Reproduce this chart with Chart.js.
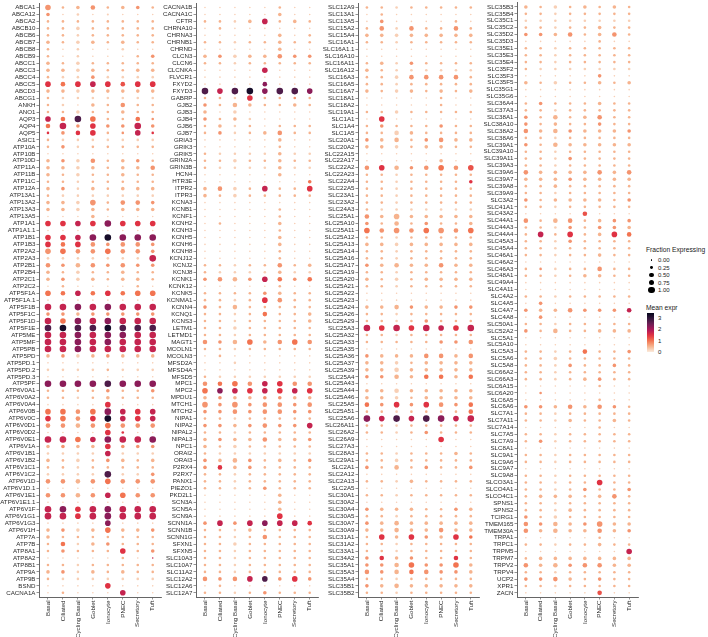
<!DOCTYPE html>
<html>
<head>
<meta charset="utf-8">
<script src="https://cdn.jsdelivr.net/npm/chart.js@4.4.1/dist/chart.umd.min.js"></script>
<style>
  body { margin: 0; background: #fff; }
  #wrap { position: relative; width: 708px; height: 637px; overflow: hidden; font-family: 'Liberation Sans', Arial, sans-serif; color: #1a1a1a; }
  #wrap canvas { position: absolute; top: 0; }
  .lg { position: absolute; white-space: nowrap; line-height: 1; }
</style>
</head>
<body>
<div id="wrap">
  <canvas id="p1"></canvas>
  <canvas id="p2"></canvas>
  <canvas id="p3"></canvas>
  <canvas id="p4"></canvas>
</div>
<script>
// cell types (x axis)
const cellTypes = ['Basal', 'Ciliated', 'Cycling Basal', 'Goblet', 'Ionocyte', 'PNEC', 'Secretory', 'Tuft'];

// one string per gene, one character per cell type (same order as cellTypes)
// fraction expressing: hex digit in tenths (a = 1.0)
// mean expression: hex digit in quarters (4 = 1.0, 8 = 2.0, d = 3.25)

const genes1 = ['ABCA1','ABCA12','ABCA2','ABCB10','ABCB6','ABCB7','ABCB8','ABCB9','ABCC1','ABCC3','ABCC4','ABCC5','ABCD3','ABCG1','ANKH','ANO1','AQP3','AQP4','AQP5','ASIC1','ATP10A','ATP10B','ATP10D','ATP11A','ATP11B','ATP11C','ATP12A','ATP13A1','ATP13A2','ATP13A3','ATP13A5','ATP1A1','ATP1A1.1','ATP1B1','ATP1B3','ATP2A2','ATP2A3','ATP2B1','ATP2B4','ATP2C1','ATP2C2','ATP5F1A','ATP5F1A.1','ATP5F1B','ATP5F1C','ATP5F1D','ATP5F1E','ATP5ME','ATP5MF','ATP5PB','ATP5PD','ATP5PD.1','ATP5PD.2','ATP5PD.3','ATP5PF','ATP6V0A1','ATP6V0A2','ATP6V0A4','ATP6V0B','ATP6V0C','ATP6V0D1','ATP6V0D2','ATP6V0E1','ATP6V1A','ATP6V1B1','ATP6V1B2','ATP6V1C1','ATP6V1C2','ATP6V1D','ATP6V1D.1','ATP6V1E1','ATP6V1E1.1','ATP6V1F','ATP6V1G1','ATP6V1G3','ATP6V1H','ATP7A','ATP7B','ATP8A1','ATP8A2','ATP8B1','ATP9A','ATP9B','BSND','CACNA1A'];
const frac1 = ['82462442','40201000','22222222','22422222','22222222','42442422','20200200','20200024','42422222','44442244','22242222','86888688','44444444','22222222','22042622','22422422','86a82262','6a4844a4','24682282','22222222','24222222','00000000','44462442','44442446','42422422','22222222','44242444','22222222','44482664','44442444','00040000','8888a888','00000000','888aaaaa','86864664','88668664','2222222a','64664644','42422422','44442442','02000020','86868688','00000000','aaaaaaaa','44444444','a8aaaaaa','aaaaaaaa','aaaaaaaa','aaaaaaaa','aaaaaaaa','44444444','00000000','22222222','00000000','aaaaaaaa','22224224','22224222','00008000','8868a888','8868a888','66668666','00008200','aa88aaaa','44448444','22228222','42424424','22222222','2222a224','66668666','00000000','66668866','00000000','aa8aaaaa','aa8aaaaa','00008000','44448444','42222222','26244222','24222824','00000200','22222222','44242422','22222222','00008000','02000800'];
const mean1 = ['32232232','31111111','22222222','22122222','22122222','22122222','21111111','21111123','22122222','22122222','21131111','64676566','22122222','21111111','21122322','22122222','74b42243','47363373','63662376','21111111','23122222','11111111','23132232','22122223','22122222','22122222','23122222','21111111','22132333','22122222','11121111','66769666','11111111','6679d999','64633333','34334333','11111117','33233333','22122222','23122222','12111121','44746444','11111111','77979777','33233333','74979777','bdbbdbbb','77979977','77979777','77977777','23123222','11111111','11112111','11111111','9999b999','22223223','22122222','11116111','44349767','6436d767','33234333','11116611','77479779','23226333','11117111','22123222','22122222','1111b113','33234333','11111111','33237433','11111111','79679777','77679777','11119111','23124223','22222222','24123222','23222623','11111217','22122222','23122222','21111111','11116111','12111711'];

const genes2 = ['CACNA1B','CACNA1C','CFTR','CHRNA10','CHRNA3','CHRNB1','CHRND','CLCN3','CLCN6','CLCNKA','FLVCR1','FXYD2','FXYD3','GABRP','GJB2','GJB3','GJB4','GJB6','GJB7','GRIA3','GRIK3','GRIK5','GRIN2A','GRIN3B','HCN4','HTR3E','ITPR2','ITPR3','KCNA3','KCNB1','KCNF1','KCNH2','KCNH3','KCNH5','KCNH6','KCNH8','KCNJ12','KCNJ2','KCNJ8','KCNK1','KCNK12','KCNK5','KCNMA1','KCNN4','KCNQ1','KCNS3','LETM1','LETMD1','MAGT1','MCOLN1','MCOLN3','MFSD2A','MFSD4A','MFSD5','MPC1','MPC2','MPDU1','MTCH1','MTCH2','NIPA1','NIPA2','NIPAL2','NIPAL3','NPC1','ORAI2','ORAI3','P2RX4','P2RX7','PANX1','PIEZO1','PKD2L1','SCN3A','SCN5A','SCN9A','SCNN1A','SCNN1B','SCNN1G','SFXN1','SFXN5','SLC10A3','SLC10A7','SLC11A2','SLC12A2','SLC12A6','SLC12A7'];
const frac2 = ['00000200','00000400','22248242','02000000','00000402','22222422','00000400','44444644','22222222','00008000','00000000','00006000','a8aa8aa8','22282222','42642242','40400000','42420000','24220222','24224622','00000400','00000200','22222422','22422422','22222422','00000400','00000004','46428228','42422222','00000000','00000200','00000200','02000400','00000200','00000400','00000400','00000200','00000200','22222624','22222422','46648646','00000200','22224422','22228622','42622222','22226224','22222224','22422222','22222222','64684686','22222222','02000000','00200000','00000000','22222222','66868866','88888888','44444444','84846646','44646644','22222222','44446448','22222222','44446444','42422222','22222222','44642424','46442222','22222222','22222222','22224222','00000400','00000400','00000400','00000800','48488886','22242222','22226222','22422222','22222222','22222222','22222222','22222222','64688484','02000000','22224222'];
const mean2 = ['11111211','11111211','22127222','12111111','11111212','22122222','11111211','23122333','22122222','11117111','11111111','11119111','b7bd9bb9','22162232','32222222','21111111','32211111','22121222','23122322','11111211','11111211','21111211','22122222','21111211','11111211','11111114','23127226','22122222','11111111','11111211','11111211','12111211','11111211','11111211','11111211','11111211','11111211','22122322','21111211','33237434','11111211','22223222','22126322','32222222','22124222','22122222','22122222','22122222','33242343','22122222','12111111','11111111','11111111','21111111','34437633','49767676','23223322','33333333','33333333','22122222','33233337','22122222','23223223','22122222','21111111','32232223','36232222','22122222','22122222','22123222','11111211','11111211','11111211','11111611','37379776','22122222','22123222','22122222','22122222','22122222','22122222','22122222','3337b363','12111111','22123222'];

const genes3 = ['SLC12A9','SLC13A1','SLC13A5','SLC15A2','SLC15A4','SLC16A1','SLC16A1.1','SLC16A10','SLC16A11','SLC16A12','SLC16A3','SLC16A5','SLC16A7','SLC18A1','SLC18A2','SLC19A1','SLC1A1','SLC1A4','SLC1A5','SLC20A1','SLC20A2','SLC22A15','SLC22A17','SLC22A2','SLC22A23','SLC22A4','SLC22A5','SLC23A1','SLC23A2','SLC24A3','SLC25A1','SLC25A10','SLC25A11','SLC25A12','SLC25A13','SLC25A14','SLC25A16','SLC25A17','SLC25A19','SLC25A20','SLC25A21','SLC25A22','SLC25A23','SLC25A24','SLC25A26','SLC25A29','SLC25A3','SLC25A32','SLC25A33','SLC25A35','SLC25A36','SLC25A37','SLC25A39','SLC25A4','SLC25A43','SLC25A44','SLC25A46','SLC25A5','SLC25A51','SLC25A6','SLC26A11','SLC26A2','SLC26A9','SLC27A3','SLC28A3','SLC29A1','SLC2A1','SLC2A12','SLC2A13','SLC2A5','SLC30A1','SLC30A2','SLC30A4','SLC30A5','SLC30A7','SLC30A9','SLC31A1','SLC31A2','SLC33A1','SLC34A2','SLC35A1','SLC35A3','SLC35A4','SLC35B1','SLC35B2'];
const frac3 = ['22222222','02000000','04000020','26262262','44444444','22222222','00000000','00000000','24242222','42222222','22466662','22222222','42442424','00000200','00000200','22422222','08000000','24222422','22642222','44624644','44424422','00000000','00000400','68646868','22222222','22222224','22222222','22222222','22222222','22222222','64844444','42624224','86868868','22222222','44444444','22222222','22222222','44644644','22222222','42424444','22222222','00000000','00000000','44644444','22222222','22224222','a8a8a88a','22222222','22222446','00000000','44446646','44424444','44644444','44646646','00000000','44644444','44424444','64848646','22222226','a8a8aa8a','22222222','22224222','00000800','00000000','22222242','22422222','42624224','00000000','22242222','00000000','22222222','00000000','44442244','22222222','44644444','44644644','28484484','22222222','22222222','46442262','44684484','64666444','22222222','44644444','22222222'];
const mean3 = ['22122222','12111111','13111121','23132232','22122222','22122222','11111111','11111111','22132222','22111111','22133332','22122222','22122222','11111211','11111211','22122222','16111111','23222322','22122222','32223322','22122222','11111111','11111211','36233435','22122222','22122226','22122222','22122222','22122222','21111111','32222222','32223222','43334334','22122222','22122222','22122222','22122222','32222322','22122222','22122222','22122222','11111111','11111111','22232233','22122222','22123222','76767767','22122222','22222333','11111111','32223323','22122222','22122222','33224424','11111111','22122222','22122222','43636334','22122224','97b7b977','22122222','22123222','11111611','11111111','22122222','22122222','32223223','11111111','22122222','11111111','22122222','11111111','32222232','22122222','32222222','22222322','26263264','22122222','22122222','36232262','33243342','33243332','22122222','32222222','22122222'];

const genes4 = ['SLC35B3','SLC35B4','SLC35C1','SLC35C2','SLC35D2','SLC35D3','SLC35E1','SLC35E3','SLC35E4','SLC35F2','SLC35F3','SLC35F5','SLC35G1','SLC35G6','SLC36A4','SLC37A3','SLC38A1','SLC38A10','SLC38A2','SLC38A6','SLC39A1','SLC39A10','SLC39A11','SLC39A3','SLC39A6','SLC39A7','SLC39A8','SLC39A9','SLC3A2','SLC41A1','SLC43A2','SLC44A1','SLC44A3','SLC44A4','SLC45A3','SLC45A4','SLC46A1','SLC46A2','SLC46A3','SLC48A1','SLC49A4','SLC4A11','SLC4A2','SLC4A5','SLC4A7','SLC4A8','SLC50A1','SLC52A2','SLC5A1','SLC5A10','SLC5A3','SLC5A6','SLC5A8','SLC66A2','SLC66A3','SLC6A15','SLC6A20','SLC6A5','SLC6A6','SLC7A1','SLC7A11','SLC7A14','SLC7A5','SLC7A9','SLC8A1','SLC9A1','SLC9A6','SLC9A7','SLC9A8','SLCO3A1','SLCO4A1','SLCO4C1','SPNS1','SPNS2','TCIRG1','TMEM165','TMEM30A','TRPA1','TRPC1','TRPM5','TRPM7','TRPV2','TRPV4','UCP2','XPR1','ZACN'];
const frac4 = ['42424242','22222222','22222222','22222422','44462462','00000200','22222222','22222222','22222222','22222222','00000400','42422424','00000000','00000000','24222422','22222222','42624622','42422422','64644444','22222222','42644444','22222222','22242222','22222222','64444646','44444444','22422222','22222222','42444424','22222222','00006000','62662444','22242444','28282486','22242222','22222222','22222422','00000000','22222622','22224422','00000000','00000000','22222222','04000000','44464446','04000000','22222222','42622444','00000000','00000000','22226224','22422222','22242242','22222222','22224422','00000200','02000000','00000200','44464642','22222222','22242242','00000200','22222222','24222222','00000000','22222222','22222222','00000000','22222222','22222822','22224224','24442462','22222222','22242222','42422222','64644844','64644644','00000200','22222422','00000008','24444444','64646644','22222222','44642422','22222222','00000600'];
const mean4 = ['22122222','22122222','11111111','22122222','33232232','11111211','22122222','22122222','22122222','21111111','11111311','22122222','11111111','11111111','23222222','22122222','32222322','32222322','32232223','22122222','32222222','22122222','22132222','22122222','32222323','22232222','22222222','22122222','32222223','22122222','11115111','32232233','22132332','27262264','22132222','22122222','22122222','11111111','23122322','22122222','11111111','11111111','22122222','13111111','32233337','13111111','22122222','32222222','11111111','11111111','22124223','22122222','22132232','22122222','22122322','11111211','13111111','11111211','33232332','22122222','22122222','11111211','22122222','23122222','11111111','22122222','22122222','11111111','22122222','22122622','22123223','22222232','22122222','22122222','32122222','33223322','32222323','11111211','22122222','11111117','22222222','32233322','22122222','33322322','22122222','11111511'];

// legend values
const legendFractions = [0, 0.25, 0.5, 0.75, 1];
const legendExpr = [3, 2, 1, 0];
const MEAN_MAX = 3.45;

// reversed "rocket" palette, light = low expression
const ROCKET = ['#03051a', '#35193e', '#701f57', '#ad1759', '#e13342', '#f37651', '#f6b48f', '#faebdd'];
const ROCKET_RGB = ROCKET.map(h => [1, 3, 5].map(k => parseInt(h.slice(k, k + 2), 16)));

function exprColor(m) {
    const t = 1 - Math.max(0, Math.min(1, m / MEAN_MAX));
    const pos = t * (ROCKET_RGB.length - 1);
    const i = Math.min(Math.floor(pos), ROCKET_RGB.length - 2);
    const f = pos - i;
    const a = ROCKET_RGB[i], b = ROCKET_RGB[i + 1];
    return 'rgb(' + a.map((v, k) => Math.round(v + (b[k] - v) * f)).join(',') + ')';
}

function dotRadius(frac) {
    return 0.8 + 2.5 * frac;
}

Chart.defaults.font.family = "'Liberation Sans', Arial, sans-serif";

const TEXT = '#2b2b2b';
const AXIS = '#666666';
const PLOT_TOP = 0.5;
const X_AXIS_H = 40;

// build one dot-plot panel
function drawPanel(id, genes, frac, mean, left, width, labelWidth) {
    const canvas = document.getElementById(id);
    canvas.width = width;
    canvas.height = 637;
    canvas.style.left = left + 'px';

    const points = [];
    const colors = [];
    genes.forEach((g, i) => {
        cellTypes.forEach((c, j) => {
            const f = parseInt(frac[i][j], 16) / 10;
            const m = parseInt(mean[i][j], 16) / 4;
            points.push({ x: j, y: i, r: dotRadius(f) });
            colors.push(exprColor(m));
        });
    });

    new Chart(canvas, {
        type: 'bubble',
        data: {
            datasets: [{
                data: points,
                backgroundColor: colors,
                borderWidth: 0,
                hoverRadius: 0
            }]
        },
        options: {
            responsive: false,
            animation: false,
            events: [],
            layout: { padding: { top: PLOT_TOP, right: 3, left: 0, bottom: 0 } },
            plugins: {
                legend: { display: false },
                tooltip: { enabled: false }
            },
            scales: {
                x: {
                    type: 'linear',
                    min: -0.6,
                    max: cellTypes.length - 0.4,
                    afterBuildTicks: s => { s.ticks = cellTypes.map((c, i) => ({ value: i })); },
                    afterFit: s => { s.height = X_AXIS_H; s.paddingLeft = 0; s.paddingRight = 0; },
                    ticks: {
                        callback: v => cellTypes[v],
                        autoSkip: false,
                        minRotation: 90,
                        maxRotation: 90,
                        padding: 1,
                        color: TEXT,
                        font: { size: 6.2 }
                    },
                    grid: { display: true, drawOnChartArea: false, tickLength: 2.5, color: AXIS, lineWidth: 0.7 },
                    border: { display: true, color: AXIS, width: 1 }
                },
                y: {
                    type: 'linear',
                    reverse: true,
                    min: -0.6,
                    max: genes.length - 0.4,
                    afterBuildTicks: s => { s.ticks = genes.map((g, i) => ({ value: i })); },
                    afterFit: s => { s.width = labelWidth; s.paddingTop = 0; s.paddingBottom = 0; },
                    ticks: {
                        callback: v => genes[v],
                        autoSkip: false,
                        padding: 1,
                        color: TEXT,
                        font: { size: 6.2 }
                    },
                    grid: { display: true, drawOnChartArea: false, tickLength: 2.5, color: AXIS, lineWidth: 0.7 },
                    border: { display: true, color: AXIS, width: 1 }
                }
            }
        }
    });
}

drawPanel('p1', genes1, frac1, mean1, 0, 165, 39);
drawPanel('p2', genes2, frac2, mean2, 160, 162, 36);
drawPanel('p3', genes3, frac3, mean3, 318, 165, 40);
drawPanel('p4', genes4, frac4, mean4, 478, 163, 39);

// legends
const wrap = document.getElementById('wrap');
function addText(txt, x, yCenter, size) {
    const d = document.createElement('div');
    d.className = 'lg';
    d.textContent = txt;
    d.style.left = x + 'px';
    d.style.top = (yCenter - size / 2) + 'px';
    d.style.fontSize = size + 'px';
    wrap.appendChild(d);
}

addText('Fraction Expressing', 646, 250.5, 6.7);
legendFractions.forEach((f, i) => {
    const y = 260 + i * 7.5;
    const r = dotRadius(f);
    const dot = document.createElement('div');
    dot.style.cssText = 'position:absolute;border-radius:50%;background:#000;';
    dot.style.left = (651.5 - r) + 'px';
    dot.style.top = (y - r) + 'px';
    dot.style.width = dot.style.height = (2 * r) + 'px';
    wrap.appendChild(dot);
    addText(f.toFixed(2), 658, y, 6);
});

addText('Mean expr', 646, 308.5, 6.7);
const barTop = 313, barBottom = 352;
const stops = [];
for (let k = 0; k <= 20; k++) {
    stops.push(exprColor(MEAN_MAX * k / 20) + ' ' + (k * 5) + '%');
}
const bar = document.createElement('div');
bar.style.cssText = 'position:absolute;left:647px;width:7px;';
bar.style.top = barTop + 'px';
bar.style.height = (barBottom - barTop) + 'px';
bar.style.background = 'linear-gradient(to top,' + stops.join(',') + ')';
wrap.appendChild(bar);
legendExpr.forEach(v => {
    const y = barBottom - (barBottom - barTop) * v / MEAN_MAX;
    addText(String(v), 658, y, 6);
});
</script>
</body>
</html>
